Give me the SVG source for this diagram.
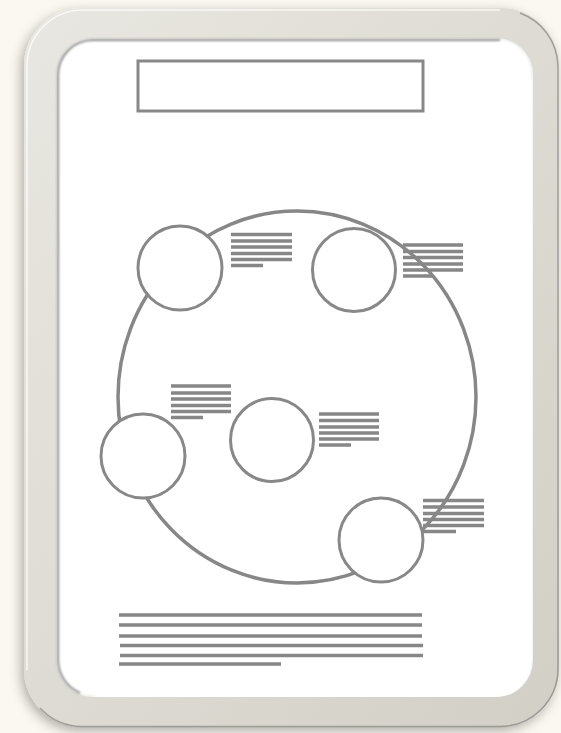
<svg xmlns="http://www.w3.org/2000/svg" width="561" height="733" viewBox="0 0 561 733">
<defs>
<linearGradient id="frameG" x1="0" y1="0" x2="1" y2="1">
<stop offset="0" stop-color="#e9e7e1"/>
<stop offset="1" stop-color="#d2cfc6"/>
</linearGradient>
<filter id="sh" x="-10%" y="-10%" width="120%" height="120%">
<feDropShadow dx="-3" dy="4" stdDeviation="6" flood-color="#000" flood-opacity="0.3"/>
</filter>
<filter id="inset" x="-5%" y="-5%" width="110%" height="110%">
<feGaussianBlur stdDeviation="0.8"/>
</filter>
</defs>
<style>
.ln{stroke:#878787;stroke-width:3.5;stroke-linecap:butt;fill:none}
.c{fill:#fff;stroke:#888;stroke-width:3}
</style>
<rect x="0" y="0" width="561" height="733" fill="#fbf8f1"/>
<g id="frame">
<rect x="24" y="8" width="535" height="719" rx="58" fill="url(#frameG)" filter="url(#sh)"/>
<path d="M520 13 A58 58 0 0 1 558 66 V669 A58 58 0 0 1 500 726.5 H82 A58 58 0 0 1 40 708" fill="none" stroke="#6e6e6e" stroke-width="1.5" opacity="0.55"/>
<path d="M27 670 V66 A56 56 0 0 1 83 10 H500" fill="none" stroke="#fdfdfb" stroke-width="1.5" opacity="0.8"/>
<rect x="57" y="39" width="475" height="657" rx="36" fill="#ffffff" stroke="#f4f4f2" stroke-width="2"/>
<path d="M80 693 A36 36 0 0 1 58 660 V75 A35 35 0 0 1 93 40 H500" fill="none" stroke="#8a8a8a" stroke-width="2" filter="url(#inset)"/>
<path d="M531 80 V660 A36 36 0 0 1 495 696 H95" fill="none" stroke="#ffffff" stroke-width="2"/>
</g>
<g id="title">
<rect x="138" y="61" width="285" height="50" fill="#fff" stroke="#888" stroke-width="3"/>
</g>
<g id="connectors">
<ellipse cx="297" cy="397" rx="179" ry="186" class="ln" stroke-width="3"/>
</g>
<g id="node1"><circle cx="180" cy="268" r="42" class="c"/></g>
<g id="node2"><circle cx="354" cy="270" r="41.5" class="c"/></g>
<g id="node3"><circle cx="143" cy="456" r="42" class="c"/></g>
<g id="node4"><circle cx="272" cy="440" r="41.5" class="c"/></g>
<g id="node5"><circle cx="381" cy="540" r="42" class="c"/></g>
<g id="text1" class="ln">
<path d="M231 234.5H292M231 241H292M231 247H292M231 253.5H292M231 259.5H292M231 265.5H263"/>
</g>
<g id="text2" class="ln">
<path d="M403 245H463M403 251.5H463M403 257.5H463M403 264H463M403 270H463M403 276H432"/>
</g>
<g id="text3" class="ln">
<path d="M171 386H231M171 393H231M171 399H231M171 405.5H231M171 411.5H231M171 417.5H203"/>
</g>
<g id="text4" class="ln">
<path d="M319 414H379M319 420.5H379M319 427H379M319 433H379M319 439H379M319 445H351"/>
</g>
<g id="text5" class="ln">
<path d="M423 500.5H484M423 507H484M423 513.5H484M423 519.5H484M423 525.5H484M423 531.5H456"/>
</g>
<g id="caption" class="ln">
<path d="M119 615H422M119 625H422M119 636H422M120 645.5H423M120 655.5H423M119 664H281"/>
</g>
</svg>
